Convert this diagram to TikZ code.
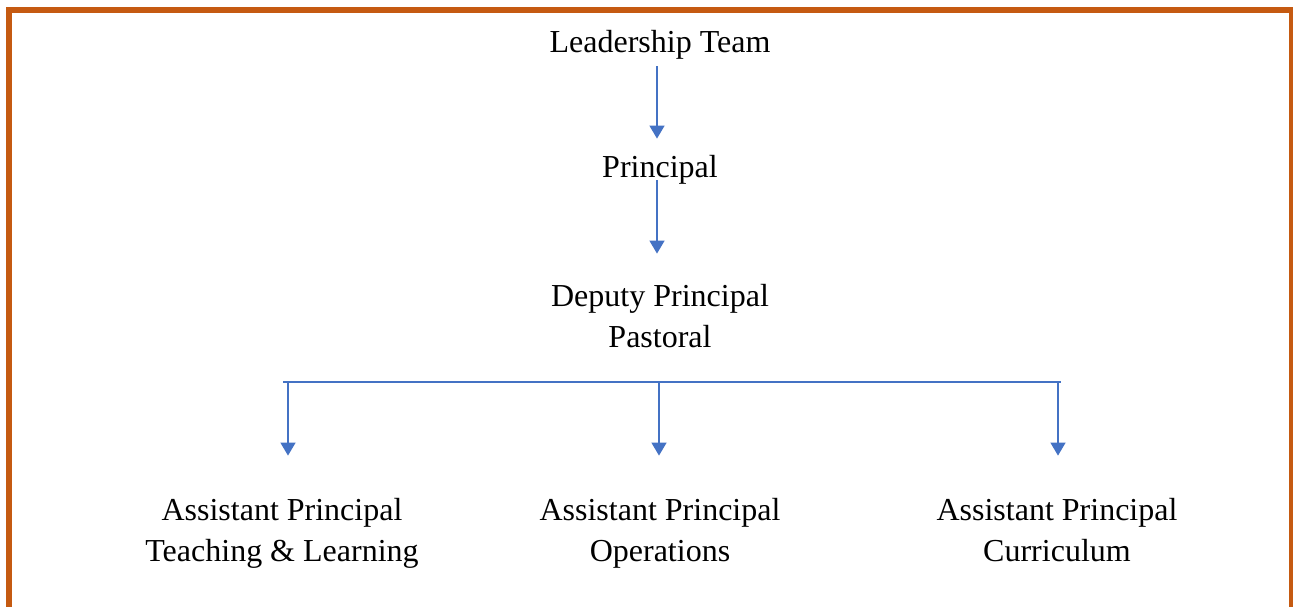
\documentclass[tikz,border=0pt]{standalone}
\usepackage{fontspec}
\setmainfont{Liberation Serif}
\usetikzlibrary{arrows.meta}
\definecolor{frameorange}{RGB}{197,90,17}
\definecolor{linkblue}{RGB}{68,114,196}
\begin{document}
\begin{tikzpicture}[x=1pt,y=-1pt]
  \tikzset{ post/.style={align=center,inner sep=0pt,anchor=base,font=\fontsize{32}{41}\selectfont},
    link/.style={linkblue,line width=1.4pt},
    arr/.style={link,-{Triangle[width=15pt,length=13pt]}},
  }
  \useasboundingbox (0,0) rectangle (1293,606);
  \draw[frameorange,line width=6pt] (9,625) -- (9,10) -- (1292,10) -- (1292,625);

  % base of a two-line post is its last line
  \node[post] (lead) at (660,52) {Leadership Team};
  \node[post] (prin) at (660,177) {Principal};
  \node[post] (dep) at (660,347) {Deputy Principal\\Pastoral};
  \node[post] (ap1) at (282,561) {Assistant Principal\\Teaching \& Learning};
  \node[post] (ap2) at (660,561) {Assistant Principal\\Operations};
  \node[post] (ap3) at (1057,561) {Assistant Principal\\Curriculum};

  % the bar over the assistants
  \coordinate (barl) at (283,382);
  \coordinate (barr) at (1061,382);
  \coordinate (j1) at (288,382);
  \coordinate (j2) at (659,382);
  \coordinate (j3) at (1058,382);
  \draw[link] (barl) -- (barr);

  % the connection between the posts
  \draw[arr,shorten <=7pt,shorten >=16pt] ([xshift=-3pt]lead.south) -- ([xshift=-3pt]prin.north);
  \draw[arr,shorten <=-4pt,shorten >=30pt] ([xshift=-3pt]prin.south) -- ([xshift=-3pt]dep.north);
  \draw[arr,shorten >=42pt] (j1) -- (j1 |- ap1.north);
  \draw[arr,shorten >=42pt] (j2) -- (j2 |- ap2.north);
  \draw[arr,shorten >=42pt] (j3) -- (j3 |- ap3.north);
\end{tikzpicture}
\end{document}
